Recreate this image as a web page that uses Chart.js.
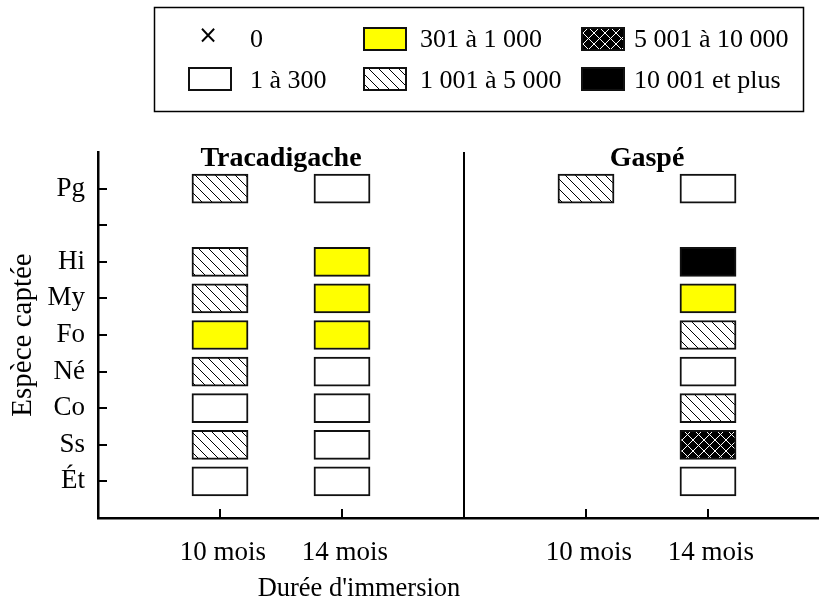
<!DOCTYPE html>
<html>
<head>
<meta charset="utf-8">
<script src="https://cdn.jsdelivr.net/npm/chart.js@4"></script>
<style>
  body { margin: 0; background: #fff; }
  #wrap { position: relative; width: 819px; height: 599px; }
</style>
</head>
<body>
<div id="wrap"><canvas id="chart"></canvas></div>
<script>
// rows from top to bottom ('' = empty row between Pg and Hi)
const rows = ['Pg', '', 'Hi', 'My', 'Fo', 'Né', 'Co', 'Ss', 'Ét'];
const sites = ['Tracadigache', 'Gaspé'];
const durations = ['10 mois', '14 mois'];
const sitePos = [[1, 2], [4, 5]];
const dividerPos = 3;
// abundance class per row: 1 = 1 à 300 ... 5 = 10 001 et plus, null = nothing
const trac10 = [3, null, 3, 3, 2, 3, 1, 3, 1];
const trac14 = [1, null, 2, 2, 2, 1, 1, 1, 1];
const gaspe10 = [3, null, null, null, null, null, null, null, null];
const gaspe14 = [1, null, 5, 2, 3, 1, 3, 4, 1];
const classLabels = ['0', '1 à 300', '301 à 1 000', '1 001 à 5 000', '5 001 à 10 000', '10 001 et plus'];

const SERIF = '"Liberation Serif", "Times New Roman", serif';
const canvas = document.getElementById('chart');
const ctx = canvas.getContext('2d');

function pattern(size, draw) {
  const t = document.createElement('canvas');
  t.width = t.height = size;
  draw(t.getContext('2d'), size);
  return ctx.createPattern(t, 'repeat');
}
function diag(g, s, down) {
  g.beginPath();
  for (const off of [-s, 0, s]) {
    if (down) { g.moveTo(off - 1, -1); g.lineTo(off + s + 1, s + 1); }
    else { g.moveTo(off - 1, s + 1); g.lineTo(off + s + 1, -1); }
  }
  g.stroke();
}
const hatch = pattern(10, (g, s) => {
  g.fillStyle = '#fff'; g.fillRect(0, 0, s, s);
  g.strokeStyle = '#000'; g.lineWidth = 1;
  diag(g, s, true);
});
const cross = pattern(11, (g, s) => {
  g.fillStyle = '#000'; g.fillRect(0, 0, s, s);
  g.strokeStyle = '#fff'; g.lineWidth = 1;
  diag(g, s, true); diag(g, s, false);
});
const classFill = [null, '#ffffff', '#ffff00', hatch, cross, '#000000'];

const columns = [
  { x: sitePos[0][0], vals: trac10 },
  { x: sitePos[0][1], vals: trac14 },
  { x: sitePos[1][0], vals: gaspe10 },
  { x: sitePos[1][1], vals: gaspe14 }
];
const halfW = 0.23;

const datasets = [1, 2, 3, 4, 5].map(cls => ({
  label: classLabels[cls],
  data: columns.flatMap(col => col.vals
    .map((v, i) => v === cls ? { y: rows.length - i, x: [col.x - halfW, col.x + halfW] } : null)
    .filter(Boolean)),
  backgroundColor: classFill[cls],
  borderColor: '#111',
  borderWidth: 2,
  borderSkipped: false,
  barThickness: 29,
  grouped: false
}));

const xLabelAt = {};
sitePos.forEach(p => p.forEach((v, j) => { xLabelAt[v] = durations[j]; }));

const decor = {
  id: 'decor',
  afterDraw(chart) {
    const { ctx: c, chartArea: a, scales: { x, y } } = chart;
    c.save();
    c.strokeStyle = '#000';
    c.lineWidth = 2;
    // inward tick marks
    c.beginPath();
    y.ticks.forEach(t => {
      const py = Math.round(y.getPixelForValue(t.value));
      c.moveTo(a.left, py); c.lineTo(a.left + 9, py);
    });
    x.ticks.forEach(t => {
      const px = Math.round(x.getPixelForValue(t.value));
      c.moveTo(px, a.bottom); c.lineTo(px, a.bottom - 9);
    });
    const dx = Math.round(x.getPixelForValue(dividerPos));
    c.moveTo(dx, a.top); c.lineTo(dx, a.bottom);
    c.stroke();

    // site titles
    c.fillStyle = '#000';
    c.textAlign = 'center';
    c.textBaseline = 'alphabetic';
    c.font = 'bold 28px ' + SERIF;
    sites.forEach((s, i) => {
      const cx = (x.getPixelForValue(sitePos[i][0]) + x.getPixelForValue(sitePos[i][1])) / 2;
      c.fillText(s, cx, 166);
    });

    // axis titles
    c.font = '26.5px ' + SERIF;
    c.fillText("Durée d'immersion", 359, 596);
    c.save();
    c.translate(23, (a.top + a.bottom) / 2);
    c.rotate(-Math.PI / 2);
    c.textBaseline = 'middle';
    c.font = '29px ' + SERIF;
    c.fillText('Espèce captée', 0, 0);
    c.restore();

    // legend
    c.lineWidth = 1.5;
    c.strokeRect(154.5, 7.5, 649, 104);
    const items = [
      { col: 0, row: 0 }, { col: 0, row: 1 },
      { col: 1, row: 0 }, { col: 1, row: 1 },
      { col: 2, row: 0 }, { col: 2, row: 1 }
    ];
    const swX = [188, 363, 581];
    const txX = [250, 420, 634];
    const rowTop = [27, 67];
    const rowBase = [47, 88];
    items.forEach((it, k) => {
      const sx = swX[it.col], sy = rowTop[it.row];
      if (k === 0) {
        c.font = '24px "DejaVu Sans", sans-serif';
        c.textAlign = 'center';
        c.textBaseline = 'middle';
        c.fillText('×', 208, 37);
      } else {
        c.fillStyle = '#111';
        c.fillRect(sx, sy, 44, 24);
        c.fillStyle = classFill[k];
        c.fillRect(sx + 2, sy + 2, 40, 20);
      }
      c.fillStyle = '#000';
      c.font = '26px ' + SERIF;
      c.textAlign = 'left';
      c.textBaseline = 'alphabetic';
      c.fillText(classLabels[k], txX[it.col], rowBase[it.row]);
    });
    c.restore();
  }
};

new Chart(ctx, {
  type: 'bar',
  data: { datasets },
  options: {
    indexAxis: 'y',
    responsive: true,
    maintainAspectRatio: false,
    animation: false,
    layout: { padding: { top: 152, right: 0, bottom: 0, left: 0 } },
    plugins: { legend: { display: false }, tooltip: { enabled: false } },
    scales: {
      x: {
        type: 'linear',
        min: 0,
        max: (819 - 98) / 122,
        offset: false,
        grid: { display: false, drawTicks: false },
        border: { display: true, color: '#000', width: 2.5 },
        afterBuildTicks: s => { s.ticks = Object.keys(xLabelAt).map(v => ({ value: +v })); },
        afterFit: s => { s.height = 81; },
        ticks: {
          padding: 19,
          labelOffset: 3,
          color: '#000',
          font: { family: SERIF, size: 27 },
          maxRotation: 0,
          callback: v => xLabelAt[v] || ''
        }
      },
      y: {
        type: 'linear',
        min: 0,
        max: 10,
        offset: false,
        grid: { display: false, drawTicks: false },
        border: { display: true, color: '#000', width: 2.5 },
        afterBuildTicks: s => { s.ticks = rows.map((r, i) => ({ value: rows.length - i })); },
        afterFit: s => { s.width = 98; },
        ticks: {
          padding: 13,
          color: '#000',
          font: { family: SERIF, size: 27 },
          callback: v => rows[rows.length - v]
        }
      }
    }
  },
  plugins: [decor]
});
</script>
</body>
</html>
